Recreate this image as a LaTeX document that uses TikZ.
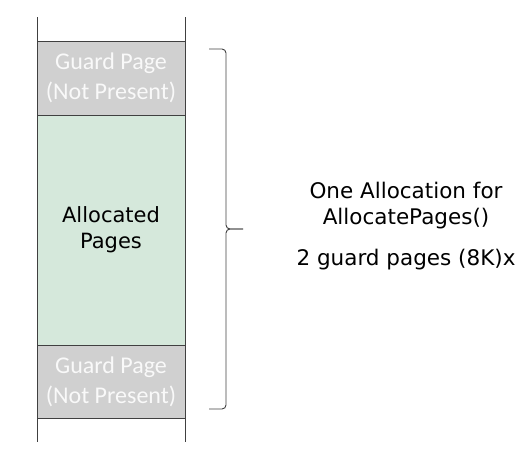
\documentclass[tikz,border=0pt]{standalone}
\usepackage{fontspec}
\setmainfont{DejaVu Sans}
\newfontfamily\calibri{Carlito}
\usetikzlibrary{positioning}

\definecolor{guardgray}{HTML}{D0D0D0}
\definecolor{allocgreen}{HTML}{D5E8DB}
\definecolor{edgegray}{HTML}{404040}

\tikzset{
  page/.style={draw=edgegray, line width=0.9pt, minimum width=148pt,
    inner sep=0pt, outer sep=0pt, align=center},
  guard/.style={page, fill=guardgray, text=white!95!gray,
    font=\calibri\fontsize{24}{30}\selectfont},
  wall/.style={draw=edgegray, line width=0.9pt},
}

\begin{document}
\begin{tikzpicture}[x=1pt,y=-1pt]
    \useasboundingbox (0,0) rectangle (532,452);

    % Páginas
    \node[guard, minimum height=74pt] (guardtop) at (111,78) {Guard Page\\(Not Present)};
    \node[page, fill=allocgreen, minimum height=230pt, font=\fontsize{21}{26}\selectfont,
      below=0pt of guardtop] (alloc) {Allocated\\Pages};
    \node[guard, minimum height=73pt, below=0pt of alloc] (guardbot) {Guard Page\\(Not Present)};

    % Paredes
    \draw[wall] (guardtop.north west) -- ++(0,-24);
    \draw[wall] (guardtop.north east) -- ++(0,-24);
    \draw[wall] (guardbot.south west) -- ++(0,24);
    \draw[wall] (guardbot.south east) -- ++(0,24);

    % Llave
    \draw[wall, rounded corners=4pt] (209,49) -- (226,49) -- (226,229) -- (243,229);
    \draw[wall, rounded corners=4pt] (243,229) -- (226,229) -- (226,409) -- (209,409);

    % Etiquetas
    \node[align=center, font=\fontsize{21.5}{26}\selectfont] (note) at (406,226)
      {One Allocation for\\AllocatePages()\\[15pt]2 guard pages (8K)x};

\end{tikzpicture}
\end{document}
